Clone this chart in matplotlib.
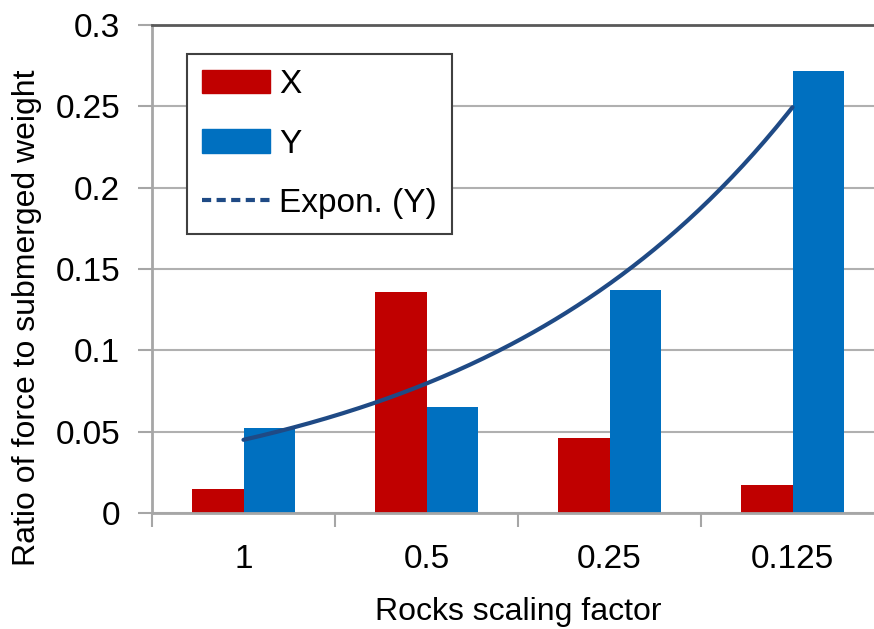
import matplotlib
matplotlib.use("Agg")
import matplotlib.pyplot as plt
import numpy as np
from matplotlib.lines import Line2D
from matplotlib.patches import Patch
from matplotlib.ticker import FixedLocator, FuncFormatter

# datos
categorias = ["1", "0.5", "0.25", "0.125"]
valores_x = [0.015, 0.136, 0.046, 0.017]
valores_y = [0.052, 0.065, 0.137, 0.272]

COLOR_X = "#C00000"
COLOR_Y = "#0070C0"
COLOR_TEND = "#1F4A85"

plt.rcParams["font.family"] = ["Liberation Sans Narrow", "Liberation Sans", "DejaVu Sans"]

fig = plt.figure(figsize=(8.74, 6.29), dpi=100)
ax = fig.add_axes([152 / 874, 1 - 513 / 629, 732 / 874, 488 / 629])

pos = np.arange(len(categorias))
ancho = 0.284
ax.bar(pos - ancho / 2, valores_x, ancho, color=COLOR_X, zorder=2)
ax.bar(pos + ancho / 2, valores_y, ancho, color=COLOR_Y, zorder=2)

# línea de tendencia exponencial sobre Y
b, a = np.polyfit(pos + 1, np.log(valores_y), 1)
xs = np.linspace(pos[0], pos[-1], 200)
ax.plot(xs, np.exp(a + b * (xs + 1)), color=COLOR_TEND, lw=3, zorder=3,
        solid_capstyle="round")

ax.set_xlim(-0.5, len(categorias) - 0.5)
ax.set_ylim(0, 0.3)
ax.set_yticks(np.arange(0, 0.301, 0.05))
ax.yaxis.set_major_formatter(FuncFormatter(lambda v, p: f"{v:g}"))
ax.grid(axis="y", color="#B0B0B0", lw=1.5, zorder=0)

ax.xaxis.set_major_locator(FixedLocator(np.arange(-0.5, len(categorias), 1.0)))
ax.xaxis.set_major_formatter(FuncFormatter(lambda v, p: ""))
ax.set_xticks(pos, categorias, minor=True)
ax.tick_params(axis="x", which="major", length=10, width=1.5, color="#A6A6A6")
ax.tick_params(axis="x", which="minor", length=0, pad=22, labelsize=24)
ax.tick_params(axis="y", length=10, width=1.5, color="#A6A6A6", labelsize=24, pad=13)

for lado in ["left", "bottom"]:
    ax.spines[lado].set_color("#A6A6A6")
    ax.spines[lado].set_linewidth(2)
ax.spines["top"].set_color("#595959")
ax.spines["top"].set_linewidth(2)
ax.spines["right"].set_visible(False)

ax.set_xlabel("Rocks scaling factor", fontsize=23, labelpad=16)
ax.set_ylabel("Ratio of force to submerged weight", fontsize=23)
ax.yaxis.set_label_coords(-0.15, 0.40)

manejadores = [
    Patch(color=COLOR_X, label="X"),
    Patch(color=COLOR_Y, label="Y"),
    Line2D([0], [0], color=COLOR_TEND, lw=3, ls=(0, (2.2, 1.3)), label="Expon. (Y)"),
]
leg = ax.legend(handles=manejadores, loc="upper left", bbox_to_anchor=(0.048, 0.94),
                borderaxespad=0, fontsize=24, frameon=True, fancybox=False,
                handlelength=2.05, handletextpad=0.25, labelspacing=0.85,
                borderpad=0.45)
leg.get_frame().set_edgecolor("#404040")
leg.get_frame().set_linewidth(1.5)
leg.get_frame().set_alpha(1)

fig.savefig("out.png", dpi=100)
